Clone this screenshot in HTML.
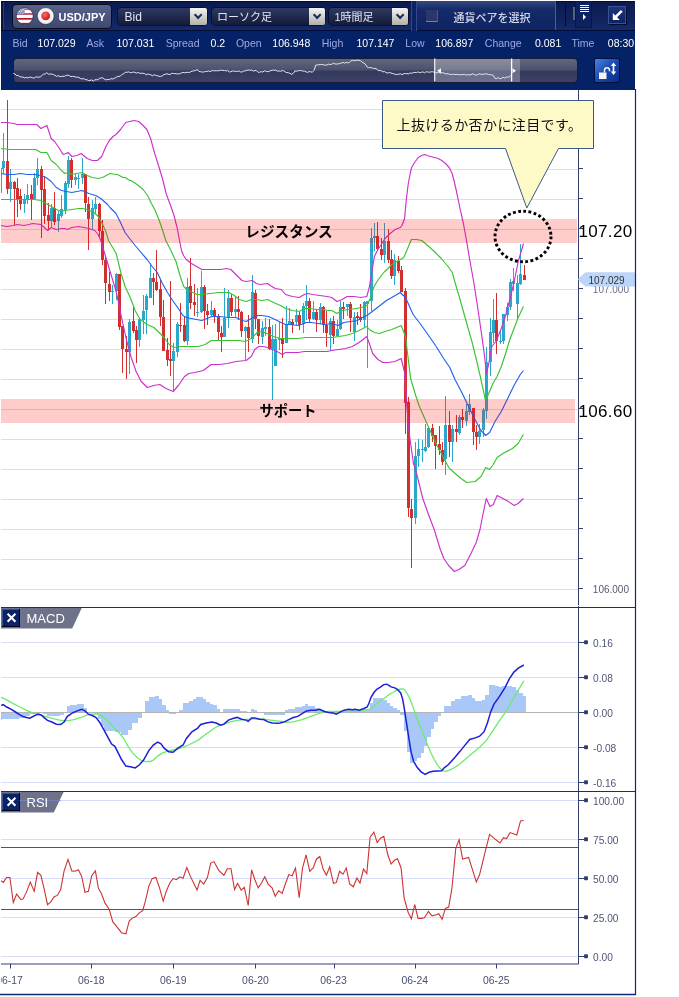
<!DOCTYPE html>
<html><head><meta charset="utf-8">
<style>
*{box-sizing:border-box;margin:0;padding:0}
html,body{width:679px;height:997px;overflow:hidden;background:#fff}
body{position:relative;font-family:"Liberation Sans","Noto Sans CJK JP",sans-serif}
#chart{position:absolute;left:0;top:0;will-change:transform}
#hdr{position:absolute;left:1px;top:1px;width:634px;height:89px;background:#062266;overflow:hidden;will-change:transform}
#tb{position:absolute;left:0;top:0;width:634px;height:30px;background:linear-gradient(#0b1b50,#10245f 70%,#142a6a);border-top:1px solid #020a30;border-bottom:1px solid #030c34}
.abs{position:absolute}
#pair{left:11px;top:1.7px;width:100px;height:25.3px;border-radius:4px;border:1px solid #0b0d1c;background:linear-gradient(#59638a,#3d4870)}
.flag{position:absolute;width:17px;height:17px;border-radius:50%;box-shadow:0 0 0 1px rgba(200,205,220,.55)}
#us{left:15.2px;top:6.8px;background:repeating-linear-gradient(#c8102e 0 2.4px,#fff 2.4px 4.8px);overflow:hidden}
#us i{position:absolute;left:0;top:0;width:8px;height:7px;background:#2a3a7a}
#jp{left:36.2px;top:6.8px;background:radial-gradient(circle at 50% 45%,#f05a5a 0,#dc2a2a 3.2px,#d82828 4.3px,#f2f2f2 4.9px,#fafafa 6px,#c8c8cc 8.5px)}
#pairt{left:57.5px;top:9.5px;font-size:11px;font-weight:bold;color:#fff;letter-spacing:0}
.dd{position:absolute;top:7px;height:17px;border-radius:4px;background:linear-gradient(#2e3a62,#141b3a);box-shadow:0 0 0 1px #0a1030}
.dd span{position:absolute;left:7px;top:1.5px;font-size:12px;color:#e2e6f4;white-space:nowrap}
.dd span.j{font-size:11px;left:5.5px;top:-0.5px}
.dd b{position:absolute;right:0;top:0;width:16.5px;height:17px;border-radius:0 2px 2px 0;background:linear-gradient(#f4f4f2,#b2b2aa)}
.dd b:after{content:"";position:absolute;left:5.3px;top:4.3px;width:4.3px;height:4.3px;border-right:2.2px solid #1a2a5a;border-bottom:2.2px solid #1a2a5a;transform:rotate(45deg)}
#sel{left:416px;top:0;width:138.5px;height:29px;background:linear-gradient(#33487f,#152b69 30%,#0f2563);border-right:1px solid #4a5c98}
#sep1{left:410px;top:0;width:6px;height:30px;background:#0b2266;border-left:1px solid #34488a;border-right:1px solid #34488a}
#chk{left:424.8px;top:8.5px;width:12.5px;height:12.5px;background:#2a3868;border-bottom:1px solid #7080b0;border-right:1px solid #4a5888}
#selt{left:452.5px;top:8px;font-size:11px;font-weight:500;color:#d4d8ea;white-space:nowrap}
#vl{left:563.7px;top:3px;width:1px;height:22px;background:#020a30}
#gr{left:572px;top:6px;width:2px;height:13px;background:#56607e}
#menu{left:574px;top:-0.5px;width:16.5px;height:27px;background:#0e2260;border:1px solid #08164a}
#menu i{position:absolute;left:3.5px;width:9px;height:1px;background:#fff}
#menu em{position:absolute;left:7px;top:12.5px;width:0;height:0;border-left:3.5px solid #fff;border-top:3px solid transparent;border-bottom:3px solid transparent}
#arr{left:606.7px;top:4.5px;width:18px;height:18px;background:linear-gradient(#1a3680,#0c2262);border:1px solid #3a5090;box-shadow:1px 1px 0 #020a30}
#info{position:absolute;left:0;top:30px;width:634px;height:24px;font-size:10.5px;white-space:nowrap}
#info span{position:absolute;top:5.5px}
.l{color:#9da9e2}.v{color:#fff}
#slider{left:11.6px;top:57px;width:565.5px;height:24.5px;border-radius:4px;border:1px solid #181c36;background:linear-gradient(#62677f,#4b506c 48%,#343a5c 52%,#3c4266);overflow:hidden}
#win{left:422px;top:0;width:84px;height:24px;background:rgba(255,255,255,.25)}
#lock{left:592.8px;top:56.5px;width:26px;height:25.5px;border-radius:2px;background:linear-gradient(135deg,#4a84e0,#1a48b0 50%,#0a2a86);border:1px solid #021040}
</style></head><body>
<svg id="chart" width="679" height="997" viewBox="0 0 679 997" font-family="Liberation Sans, Noto Sans CJK JP, sans-serif">
<line x1="1" y1="109.5" x2="578" y2="109.5" stroke="#d6dcfa" stroke-width="1"/>
<line x1="1" y1="139.5" x2="578" y2="139.5" stroke="#d6dcfa" stroke-width="1"/>
<line x1="1" y1="169.5" x2="578" y2="169.5" stroke="#d6dcfa" stroke-width="1"/>
<line x1="1" y1="199.5" x2="578" y2="199.5" stroke="#d6dcfa" stroke-width="1"/>
<line x1="1" y1="229.5" x2="578" y2="229.5" stroke="#d6dcfa" stroke-width="1"/>
<line x1="1" y1="259.5" x2="578" y2="259.5" stroke="#d6dcfa" stroke-width="1"/>
<line x1="1" y1="289.5" x2="578" y2="289.5" stroke="#d6dcfa" stroke-width="1"/>
<line x1="1" y1="319.5" x2="578" y2="319.5" stroke="#d6dcfa" stroke-width="1"/>
<line x1="1" y1="349.5" x2="578" y2="349.5" stroke="#d6dcfa" stroke-width="1"/>
<line x1="1" y1="379.5" x2="578" y2="379.5" stroke="#d6dcfa" stroke-width="1"/>
<line x1="1" y1="409.5" x2="578" y2="409.5" stroke="#d6dcfa" stroke-width="1"/>
<line x1="1" y1="439.5" x2="578" y2="439.5" stroke="#d6dcfa" stroke-width="1"/>
<line x1="1" y1="469.5" x2="578" y2="469.5" stroke="#d6dcfa" stroke-width="1"/>
<line x1="1" y1="499.5" x2="578" y2="499.5" stroke="#d6dcfa" stroke-width="1"/>
<line x1="1" y1="529.5" x2="578" y2="529.5" stroke="#d6dcfa" stroke-width="1"/>
<line x1="1" y1="559.5" x2="578" y2="559.5" stroke="#d6dcfa" stroke-width="1"/>
<line x1="1" y1="589.5" x2="578" y2="589.5" stroke="#d6dcfa" stroke-width="1"/>
<g shape-rendering="crispEdges"><rect x="1" y="168" width="1" height="25" fill="#2ca7cc"/><rect x="1" y="168" width="2" height="1" fill="#2ca7cc"/><rect x="3" y="133" width="1" height="41" fill="#2ca7cc"/><rect x="2" y="161" width="3" height="7" fill="#2ca7cc"/><rect x="7" y="100" width="1" height="94" fill="#d22f2f"/><rect x="6" y="161" width="3" height="28" fill="#d22f2f"/><rect x="10" y="169" width="1" height="33" fill="#2ca7cc"/><rect x="9" y="182" width="3" height="7" fill="#2ca7cc"/><rect x="14" y="181" width="1" height="44" fill="#d22f2f"/><rect x="13" y="182" width="3" height="7" fill="#d22f2f"/><rect x="17" y="178" width="1" height="39" fill="#d22f2f"/><rect x="16" y="188" width="3" height="11" fill="#d22f2f"/><rect x="20" y="189" width="1" height="21" fill="#d22f2f"/><rect x="19" y="196" width="3" height="8" fill="#d22f2f"/><rect x="24" y="194" width="1" height="19" fill="#2ca7cc"/><rect x="23" y="200" width="3" height="4" fill="#2ca7cc"/><rect x="27" y="184" width="1" height="20" fill="#2ca7cc"/><rect x="26" y="195" width="3" height="4" fill="#2ca7cc"/><rect x="31" y="185" width="1" height="35" fill="#d22f2f"/><rect x="30" y="194" width="3" height="5" fill="#d22f2f"/><rect x="34" y="173" width="1" height="26" fill="#2ca7cc"/><rect x="33" y="178" width="3" height="21" fill="#2ca7cc"/><rect x="37" y="158" width="1" height="27" fill="#2ca7cc"/><rect x="36" y="169" width="3" height="9" fill="#2ca7cc"/><rect x="41" y="166" width="1" height="72" fill="#d22f2f"/><rect x="40" y="169" width="3" height="21" fill="#d22f2f"/><rect x="44" y="176" width="1" height="48" fill="#d22f2f"/><rect x="43" y="189" width="3" height="27" fill="#d22f2f"/><rect x="48" y="203" width="1" height="27" fill="#d22f2f"/><rect x="47" y="215" width="3" height="6" fill="#d22f2f"/><rect x="51" y="204" width="1" height="23" fill="#2ca7cc"/><rect x="50" y="208" width="3" height="13" fill="#2ca7cc"/><rect x="54" y="192" width="1" height="33" fill="#d22f2f"/><rect x="53" y="208" width="3" height="14" fill="#d22f2f"/><rect x="58" y="211" width="1" height="21" fill="#2ca7cc"/><rect x="57" y="214" width="3" height="7" fill="#2ca7cc"/><rect x="61" y="195" width="1" height="23" fill="#2ca7cc"/><rect x="60" y="209" width="3" height="7" fill="#2ca7cc"/><rect x="65" y="181" width="1" height="33" fill="#2ca7cc"/><rect x="64" y="183" width="3" height="27" fill="#2ca7cc"/><rect x="68" y="156" width="1" height="32" fill="#2ca7cc"/><rect x="67" y="160" width="3" height="24" fill="#2ca7cc"/><rect x="71" y="158" width="1" height="30" fill="#d22f2f"/><rect x="70" y="160" width="3" height="20" fill="#d22f2f"/><rect x="75" y="173" width="1" height="12" fill="#2ca7cc"/><rect x="74" y="177" width="3" height="3" fill="#2ca7cc"/><rect x="78" y="174" width="1" height="15" fill="#2ca7cc"/><rect x="77" y="178" width="3" height="1" fill="#2ca7cc"/><rect x="82" y="158" width="1" height="26" fill="#2ca7cc"/><rect x="81" y="174" width="3" height="4" fill="#2ca7cc"/><rect x="85" y="174" width="1" height="38" fill="#d22f2f"/><rect x="84" y="174" width="3" height="29" fill="#d22f2f"/><rect x="88" y="197" width="1" height="53" fill="#d22f2f"/><rect x="87" y="204" width="3" height="15" fill="#d22f2f"/><rect x="92" y="200" width="1" height="29" fill="#2ca7cc"/><rect x="91" y="208" width="3" height="11" fill="#2ca7cc"/><rect x="95" y="197" width="1" height="16" fill="#2ca7cc"/><rect x="94" y="204" width="3" height="5" fill="#2ca7cc"/><rect x="99" y="203" width="1" height="34" fill="#d22f2f"/><rect x="98" y="204" width="3" height="27" fill="#d22f2f"/><rect x="102" y="220" width="1" height="45" fill="#d22f2f"/><rect x="101" y="231" width="3" height="29" fill="#d22f2f"/><rect x="105" y="257" width="1" height="47" fill="#d22f2f"/><rect x="104" y="260" width="3" height="23" fill="#d22f2f"/><rect x="109" y="272" width="1" height="29" fill="#d22f2f"/><rect x="108" y="284" width="3" height="8" fill="#d22f2f"/><rect x="112" y="285" width="1" height="19" fill="#2ca7cc"/><rect x="111" y="291" width="3" height="1" fill="#2ca7cc"/><rect x="116" y="273" width="1" height="27" fill="#2ca7cc"/><rect x="115" y="274" width="3" height="17" fill="#2ca7cc"/><rect x="119" y="274" width="1" height="56" fill="#d22f2f"/><rect x="118" y="274" width="3" height="53" fill="#d22f2f"/><rect x="122" y="326" width="1" height="47" fill="#d22f2f"/><rect x="121" y="326" width="3" height="23" fill="#d22f2f"/><rect x="126" y="336" width="1" height="43" fill="#d22f2f"/><rect x="125" y="349" width="3" height="3" fill="#d22f2f"/><rect x="129" y="319" width="1" height="55" fill="#2ca7cc"/><rect x="128" y="322" width="3" height="30" fill="#2ca7cc"/><rect x="133" y="307" width="1" height="26" fill="#d22f2f"/><rect x="132" y="321" width="3" height="10" fill="#d22f2f"/><rect x="136" y="326" width="1" height="37" fill="#d22f2f"/><rect x="135" y="330" width="3" height="10" fill="#d22f2f"/><rect x="139" y="318" width="1" height="29" fill="#2ca7cc"/><rect x="138" y="319" width="3" height="21" fill="#2ca7cc"/><rect x="143" y="295" width="1" height="39" fill="#2ca7cc"/><rect x="142" y="311" width="3" height="9" fill="#2ca7cc"/><rect x="146" y="294" width="1" height="40" fill="#2ca7cc"/><rect x="145" y="296" width="3" height="14" fill="#2ca7cc"/><rect x="150" y="265" width="1" height="33" fill="#2ca7cc"/><rect x="149" y="278" width="3" height="20" fill="#2ca7cc"/><rect x="153" y="273" width="1" height="32" fill="#d22f2f"/><rect x="152" y="278" width="3" height="4" fill="#d22f2f"/><rect x="156" y="250" width="1" height="41" fill="#d22f2f"/><rect x="155" y="282" width="3" height="8" fill="#d22f2f"/><rect x="160" y="280" width="1" height="46" fill="#d22f2f"/><rect x="159" y="289" width="3" height="28" fill="#d22f2f"/><rect x="163" y="300" width="1" height="51" fill="#d22f2f"/><rect x="162" y="317" width="3" height="34" fill="#d22f2f"/><rect x="167" y="338" width="1" height="28" fill="#d22f2f"/><rect x="166" y="350" width="3" height="10" fill="#d22f2f"/><rect x="170" y="281" width="1" height="95" fill="#d22f2f"/><rect x="169" y="359" width="3" height="2" fill="#d22f2f"/><rect x="173" y="343" width="1" height="48" fill="#2ca7cc"/><rect x="172" y="351" width="3" height="10" fill="#2ca7cc"/><rect x="177" y="322" width="1" height="35" fill="#2ca7cc"/><rect x="176" y="324" width="3" height="28" fill="#2ca7cc"/><rect x="180" y="303" width="1" height="29" fill="#d22f2f"/><rect x="179" y="325" width="3" height="1" fill="#d22f2f"/><rect x="184" y="316" width="1" height="26" fill="#d22f2f"/><rect x="183" y="325" width="3" height="16" fill="#d22f2f"/><rect x="187" y="278" width="1" height="67" fill="#2ca7cc"/><rect x="186" y="287" width="3" height="54" fill="#2ca7cc"/><rect x="190" y="258" width="1" height="51" fill="#d22f2f"/><rect x="189" y="286" width="3" height="17" fill="#d22f2f"/><rect x="194" y="284" width="1" height="32" fill="#d22f2f"/><rect x="193" y="302" width="3" height="3" fill="#d22f2f"/><rect x="197" y="288" width="1" height="29" fill="#2ca7cc"/><rect x="196" y="312" width="3" height="1" fill="#2ca7cc"/><rect x="201" y="271" width="1" height="42" fill="#2ca7cc"/><rect x="200" y="287" width="3" height="25" fill="#2ca7cc"/><rect x="204" y="285" width="1" height="44" fill="#d22f2f"/><rect x="203" y="287" width="3" height="24" fill="#d22f2f"/><rect x="207" y="304" width="1" height="21" fill="#d22f2f"/><rect x="206" y="311" width="3" height="4" fill="#d22f2f"/><rect x="211" y="301" width="1" height="16" fill="#2ca7cc"/><rect x="210" y="310" width="3" height="5" fill="#2ca7cc"/><rect x="214" y="308" width="1" height="15" fill="#d22f2f"/><rect x="213" y="310" width="3" height="6" fill="#d22f2f"/><rect x="218" y="314" width="1" height="26" fill="#d22f2f"/><rect x="217" y="316" width="3" height="16" fill="#d22f2f"/><rect x="221" y="326" width="1" height="26" fill="#d22f2f"/><rect x="220" y="333" width="3" height="4" fill="#d22f2f"/><rect x="224" y="288" width="1" height="49" fill="#2ca7cc"/><rect x="223" y="318" width="3" height="19" fill="#2ca7cc"/><rect x="228" y="290" width="1" height="38" fill="#2ca7cc"/><rect x="227" y="298" width="3" height="19" fill="#2ca7cc"/><rect x="231" y="294" width="1" height="22" fill="#d22f2f"/><rect x="230" y="298" width="3" height="14" fill="#d22f2f"/><rect x="235" y="297" width="1" height="20" fill="#2ca7cc"/><rect x="234" y="309" width="3" height="3" fill="#2ca7cc"/><rect x="238" y="296" width="1" height="24" fill="#d22f2f"/><rect x="237" y="309" width="3" height="3" fill="#d22f2f"/><rect x="241" y="311" width="1" height="26" fill="#d22f2f"/><rect x="240" y="312" width="3" height="19" fill="#d22f2f"/><rect x="245" y="326" width="1" height="34" fill="#2ca7cc"/><rect x="244" y="327" width="3" height="4" fill="#2ca7cc"/><rect x="248" y="315" width="1" height="37" fill="#d22f2f"/><rect x="247" y="327" width="3" height="11" fill="#d22f2f"/><rect x="252" y="275" width="1" height="68" fill="#2ca7cc"/><rect x="251" y="292" width="3" height="47" fill="#2ca7cc"/><rect x="255" y="290" width="1" height="39" fill="#d22f2f"/><rect x="254" y="293" width="3" height="26" fill="#d22f2f"/><rect x="258" y="319" width="1" height="25" fill="#d22f2f"/><rect x="257" y="319" width="3" height="17" fill="#d22f2f"/><rect x="262" y="321" width="1" height="23" fill="#2ca7cc"/><rect x="261" y="328" width="3" height="9" fill="#2ca7cc"/><rect x="265" y="318" width="1" height="18" fill="#2ca7cc"/><rect x="264" y="327" width="3" height="2" fill="#2ca7cc"/><rect x="269" y="319" width="1" height="31" fill="#d22f2f"/><rect x="268" y="327" width="3" height="22" fill="#d22f2f"/><rect x="272" y="325" width="1" height="75" fill="#2ca7cc"/><rect x="271" y="339" width="3" height="10" fill="#2ca7cc"/><rect x="275" y="324" width="1" height="42" fill="#2ca7cc"/><rect x="274" y="339" width="3" height="27" fill="#2ca7cc"/><rect x="279" y="322" width="1" height="28" fill="#2ca7cc"/><rect x="278" y="338" width="3" height="2" fill="#2ca7cc"/><rect x="282" y="318" width="1" height="40" fill="#d22f2f"/><rect x="281" y="338" width="3" height="6" fill="#d22f2f"/><rect x="286" y="306" width="1" height="37" fill="#2ca7cc"/><rect x="285" y="324" width="3" height="19" fill="#2ca7cc"/><rect x="289" y="308" width="1" height="17" fill="#2ca7cc"/><rect x="288" y="321" width="3" height="4" fill="#2ca7cc"/><rect x="292" y="319" width="1" height="14" fill="#d22f2f"/><rect x="291" y="322" width="3" height="3" fill="#d22f2f"/><rect x="296" y="309" width="1" height="16" fill="#2ca7cc"/><rect x="295" y="315" width="3" height="7" fill="#2ca7cc"/><rect x="299" y="312" width="1" height="18" fill="#d22f2f"/><rect x="298" y="315" width="3" height="10" fill="#d22f2f"/><rect x="303" y="303" width="1" height="30" fill="#2ca7cc"/><rect x="302" y="306" width="3" height="18" fill="#2ca7cc"/><rect x="306" y="285" width="1" height="35" fill="#2ca7cc"/><rect x="305" y="301" width="3" height="5" fill="#2ca7cc"/><rect x="309" y="298" width="1" height="24" fill="#d22f2f"/><rect x="308" y="301" width="3" height="18" fill="#d22f2f"/><rect x="313" y="301" width="1" height="19" fill="#2ca7cc"/><rect x="312" y="312" width="3" height="7" fill="#2ca7cc"/><rect x="316" y="310" width="1" height="22" fill="#d22f2f"/><rect x="315" y="312" width="3" height="8" fill="#d22f2f"/><rect x="320" y="303" width="1" height="21" fill="#2ca7cc"/><rect x="319" y="307" width="3" height="13" fill="#2ca7cc"/><rect x="323" y="306" width="1" height="27" fill="#d22f2f"/><rect x="322" y="307" width="3" height="18" fill="#d22f2f"/><rect x="326" y="311" width="1" height="36" fill="#d22f2f"/><rect x="325" y="325" width="3" height="8" fill="#d22f2f"/><rect x="330" y="318" width="1" height="33" fill="#2ca7cc"/><rect x="329" y="321" width="3" height="14" fill="#2ca7cc"/><rect x="333" y="316" width="1" height="28" fill="#d22f2f"/><rect x="332" y="321" width="3" height="15" fill="#d22f2f"/><rect x="337" y="320" width="1" height="16" fill="#2ca7cc"/><rect x="336" y="329" width="3" height="7" fill="#2ca7cc"/><rect x="340" y="301" width="1" height="29" fill="#2ca7cc"/><rect x="339" y="307" width="3" height="22" fill="#2ca7cc"/><rect x="343" y="302" width="1" height="17" fill="#d22f2f"/><rect x="342" y="307" width="3" height="2" fill="#d22f2f"/><rect x="347" y="304" width="1" height="12" fill="#2ca7cc"/><rect x="346" y="304" width="3" height="3" fill="#2ca7cc"/><rect x="350" y="302" width="1" height="30" fill="#d22f2f"/><rect x="349" y="304" width="3" height="14" fill="#d22f2f"/><rect x="354" y="312" width="1" height="29" fill="#2ca7cc"/><rect x="353" y="317" width="3" height="15" fill="#2ca7cc"/><rect x="357" y="312" width="1" height="13" fill="#d22f2f"/><rect x="356" y="316" width="3" height="2" fill="#d22f2f"/><rect x="360" y="304" width="1" height="18" fill="#d22f2f"/><rect x="359" y="317" width="3" height="3" fill="#d22f2f"/><rect x="364" y="301" width="1" height="26" fill="#2ca7cc"/><rect x="363" y="302" width="3" height="18" fill="#2ca7cc"/><rect x="367" y="301" width="1" height="67" fill="#2ca7cc"/><rect x="366" y="301" width="3" height="3" fill="#2ca7cc"/><rect x="371" y="228" width="1" height="83" fill="#2ca7cc"/><rect x="370" y="238" width="3" height="63" fill="#2ca7cc"/><rect x="374" y="223" width="1" height="28" fill="#2ca7cc"/><rect x="373" y="236" width="3" height="2" fill="#2ca7cc"/><rect x="377" y="222" width="1" height="29" fill="#d22f2f"/><rect x="376" y="236" width="3" height="13" fill="#d22f2f"/><rect x="381" y="238" width="1" height="22" fill="#d22f2f"/><rect x="380" y="249" width="3" height="6" fill="#d22f2f"/><rect x="384" y="223" width="1" height="40" fill="#2ca7cc"/><rect x="383" y="241" width="3" height="14" fill="#2ca7cc"/><rect x="388" y="229" width="1" height="34" fill="#d22f2f"/><rect x="387" y="241" width="3" height="19" fill="#d22f2f"/><rect x="391" y="250" width="1" height="29" fill="#d22f2f"/><rect x="390" y="259" width="3" height="17" fill="#d22f2f"/><rect x="394" y="254" width="1" height="31" fill="#2ca7cc"/><rect x="393" y="260" width="3" height="16" fill="#2ca7cc"/><rect x="398" y="256" width="1" height="17" fill="#d22f2f"/><rect x="397" y="261" width="3" height="10" fill="#d22f2f"/><rect x="401" y="266" width="1" height="26" fill="#d22f2f"/><rect x="400" y="270" width="3" height="22" fill="#d22f2f"/><rect x="405" y="288" width="1" height="146" fill="#d22f2f"/><rect x="404" y="291" width="3" height="112" fill="#d22f2f"/><rect x="408" y="397" width="1" height="120" fill="#d22f2f"/><rect x="407" y="402" width="3" height="106" fill="#d22f2f"/><rect x="411" y="499" width="1" height="69" fill="#d22f2f"/><rect x="410" y="509" width="3" height="9" fill="#d22f2f"/><rect x="415" y="442" width="1" height="82" fill="#2ca7cc"/><rect x="414" y="456" width="3" height="62" fill="#2ca7cc"/><rect x="418" y="439" width="1" height="28" fill="#2ca7cc"/><rect x="417" y="449" width="3" height="7" fill="#2ca7cc"/><rect x="422" y="440" width="1" height="22" fill="#2ca7cc"/><rect x="421" y="449" width="3" height="1" fill="#2ca7cc"/><rect x="425" y="424" width="1" height="28" fill="#2ca7cc"/><rect x="424" y="447" width="3" height="4" fill="#2ca7cc"/><rect x="428" y="427" width="1" height="21" fill="#2ca7cc"/><rect x="427" y="428" width="3" height="19" fill="#2ca7cc"/><rect x="432" y="424" width="1" height="18" fill="#d22f2f"/><rect x="431" y="428" width="3" height="8" fill="#d22f2f"/><rect x="435" y="435" width="1" height="34" fill="#d22f2f"/><rect x="434" y="435" width="3" height="11" fill="#d22f2f"/><rect x="439" y="426" width="1" height="29" fill="#d22f2f"/><rect x="438" y="444" width="3" height="6" fill="#d22f2f"/><rect x="442" y="442" width="1" height="23" fill="#d22f2f"/><rect x="441" y="450" width="3" height="12" fill="#d22f2f"/><rect x="445" y="396" width="1" height="79" fill="#2ca7cc"/><rect x="444" y="425" width="3" height="34" fill="#2ca7cc"/><rect x="449" y="411" width="1" height="46" fill="#d22f2f"/><rect x="448" y="425" width="3" height="17" fill="#d22f2f"/><rect x="452" y="425" width="1" height="37" fill="#2ca7cc"/><rect x="451" y="429" width="3" height="13" fill="#2ca7cc"/><rect x="456" y="415" width="1" height="27" fill="#d22f2f"/><rect x="455" y="429" width="3" height="3" fill="#d22f2f"/><rect x="459" y="415" width="1" height="20" fill="#2ca7cc"/><rect x="458" y="417" width="3" height="16" fill="#2ca7cc"/><rect x="462" y="409" width="1" height="19" fill="#d22f2f"/><rect x="461" y="417" width="3" height="3" fill="#d22f2f"/><rect x="466" y="404" width="1" height="22" fill="#2ca7cc"/><rect x="465" y="411" width="3" height="10" fill="#2ca7cc"/><rect x="469" y="394" width="1" height="21" fill="#2ca7cc"/><rect x="468" y="404" width="3" height="8" fill="#2ca7cc"/><rect x="473" y="408" width="1" height="37" fill="#d22f2f"/><rect x="472" y="408" width="3" height="24" fill="#d22f2f"/><rect x="476" y="425" width="1" height="25" fill="#d22f2f"/><rect x="475" y="432" width="3" height="5" fill="#d22f2f"/><rect x="479" y="424" width="1" height="20" fill="#2ca7cc"/><rect x="478" y="431" width="3" height="6" fill="#2ca7cc"/><rect x="483" y="408" width="1" height="29" fill="#2ca7cc"/><rect x="482" y="410" width="3" height="20" fill="#2ca7cc"/><rect x="486" y="347" width="1" height="72" fill="#2ca7cc"/><rect x="485" y="362" width="3" height="49" fill="#2ca7cc"/><rect x="490" y="318" width="1" height="58" fill="#2ca7cc"/><rect x="489" y="332" width="3" height="30" fill="#2ca7cc"/><rect x="493" y="299" width="1" height="44" fill="#2ca7cc"/><rect x="492" y="320" width="3" height="13" fill="#2ca7cc"/><rect x="496" y="293" width="1" height="61" fill="#d22f2f"/><rect x="495" y="320" width="3" height="21" fill="#d22f2f"/><rect x="500" y="331" width="1" height="13" fill="#2ca7cc"/><rect x="499" y="341" width="3" height="1" fill="#2ca7cc"/><rect x="503" y="314" width="1" height="30" fill="#2ca7cc"/><rect x="502" y="314" width="3" height="27" fill="#2ca7cc"/><rect x="507" y="303" width="1" height="18" fill="#2ca7cc"/><rect x="506" y="307" width="3" height="8" fill="#2ca7cc"/><rect x="510" y="279" width="1" height="31" fill="#2ca7cc"/><rect x="509" y="282" width="3" height="25" fill="#2ca7cc"/><rect x="513" y="268" width="1" height="23" fill="#2ca7cc"/><rect x="512" y="281" width="3" height="3" fill="#2ca7cc"/><rect x="517" y="275" width="1" height="44" fill="#2ca7cc"/><rect x="516" y="283" width="3" height="21" fill="#2ca7cc"/><rect x="520" y="244" width="1" height="41" fill="#2ca7cc"/><rect x="519" y="274" width="3" height="10" fill="#2ca7cc"/><rect x="524" y="265" width="1" height="15" fill="#d22f2f"/><rect x="523" y="275" width="3" height="5" fill="#d22f2f"/></g>
<g fill="none" stroke-width="1.15" stroke-linejoin="round">
<path d="M0.9 122.5 L6.8 122.5 L13.6 123.5 L17.1 124.5 L23.9 124.5 L30.7 124.5 L36.7 124.5 L40.9 128.5 L46.9 125.5 L51.2 138.5 L54.6 141.5 L58.8 147.5 L63.1 154.5 L66.5 153.5 L68.1 152.5 L71.8 156.5 L76.9 155.5 L81.2 153.5 L87.2 158.5 L92.3 160.5 L97.4 160.5 L101.7 156.5 L105.9 146.5 L109.3 140.5 L113 136.5 L114.4 135.5 L116 134.5 L120.5 129.5 L125.8 122.5 L129.6 121.5 L134.1 120.5 L138.6 121.5 L143.1 125.5 L146.9 129.5 L150.6 138.5 L154.4 152.5 L158.2 164.5 L162.7 179.5 L166.4 194.5 L170.2 204.5 L174 215.5 L177.3 228.5 L179.5 240.5 L181.5 250.5 L183.5 255.5 L186.3 259.5 L191.4 263.5 L196.5 266.5 L201.8 269.5 L212 269.5 L220.6 269.5 L226.5 268.5 L230.8 269.5 L235.9 274.5 L241.9 280.5 L246.2 281.5 L252.1 280.5 L256.4 283.5 L260 284.5 L267.7 283.5 L270.2 285.5 L275.3 288.5 L281.3 289.5 L285.6 294.5 L292.4 296.5 L299.2 297.5 L304.3 294.5 L307.7 293.5 L312.9 294.5 L319.7 295.5 L327 296.5 L331.8 297.5 L336.9 301.5 L342.1 299.5 L347.2 296.5 L354 296.5 L360.8 297.5 L366.8 296.5 L369.3 287.5 L371.9 271.5 L374.4 256.5 L377.9 249.5 L381.3 244.5 L385 238.5 L390.1 233.5 L395.2 229.5 L400.3 227.5 L402 225.5 L404.6 218.5 L406.3 199.5 L408.3 183.5 L410.2 173.5 L411.6 167.5 L414.6 162.5 L418.3 157.5 L421.6 155.5 L424.9 154.5 L427.1 155.5 L430.8 156.5 L434.5 157.5 L438.1 158.5 L441.8 160.5 L445.5 163.5 L449.2 167.5 L452.1 173.5 L454 180.5 L456.5 191.5 L459.8 207.5 L463.2 222.5 L466.5 240.5 L469.5 258.5 L474 283.5 L478 309.5 L481.6 334.5 L484.6 356.5 L486.4 373.5 L488.8 363.5 L491.8 346.5 L496 341.5 L501.3 328.5 L505.6 315.5 L509.8 299.5 L514 282.5 L518.2 261.5 L523.5 243.5" stroke="#cc30cc"/>
<path d="M0.9 225.5 L6.8 226.5 L13.6 225.5 L17.1 224.5 L23.9 225.5 L29 224.5 L32.4 223.5 L40.9 224.5 L47.7 230.5 L51.2 227.5 L56.3 229.5 L61.4 228.5 L65 228.5 L67.6 229.5 L71.8 227.5 L78.6 226.5 L83.8 227.5 L88.9 228.5 L94.8 230.5 L98.2 234.5 L100.8 240.5 L105.9 257.5 L111 274.5 L116.2 291.5 L121.3 316.5 L126.6 340.5 L130.9 356.5 L136.1 371.5 L141.2 381.5 L147.4 387.5 L153.6 385.5 L159.8 384.5 L166 388.5 L173.2 391.5 L178.4 385.5 L184.5 376.5 L188.7 373.5 L194.8 372.5 L203.3 370.5 L211.2 364.5 L218.9 364.5 L227.4 363.5 L235.9 361.5 L246.2 360.5 L251.3 356.5 L254.7 349.5 L258.9 346.5 L262.8 346.5 L267.5 347.5 L272.3 349.5 L277 351.5 L282.3 354.5 L285.6 352.5 L291.3 352.5 L298 352.5 L304.3 351.5 L311.2 351.5 L319.7 351.5 L327 351.5 L331.8 350.5 L338.6 349.5 L345.5 348.5 L352.3 346.5 L359.1 342.5 L366.8 336.5 L369.3 343.5 L372.7 353.5 L377.9 359.5 L383 362.5 L388.1 362.5 L395 361.5 L401.2 358.5 L404.6 372.5 L407 408.5 L409.5 435.5 L413.3 462.5 L417.1 475.5 L422.8 498.5 L428.5 514.5 L434.2 529.5 L440 548.5 L443.8 558.5 L448.6 565.5 L454.3 571.5 L459 569.5 L464.8 565.5 L470.5 554.5 L476.2 542.5 L480 529.5 L482.9 514.5 L486.3 498.5 L489.9 506.5 L493.3 504.5 L497.1 495.5 L501 497.5 L506.7 500.5 L514.3 505.5 L518.1 503.5 L523.4 498.5" stroke="#cc30cc"/>
<path d="M0.9 148.5 L10.2 149.5 L17.1 149.5 L25.6 149.5 L35.8 149.5 L40.9 152.5 L46.9 152.5 L51.2 160.5 L56.3 164.5 L61.4 170.5 L64.8 173.5 L68.4 172.5 L71.8 174.5 L76.9 173.5 L82.1 172.5 L87.2 175.5 L92.3 177.5 L98.2 178.5 L102.5 177.5 L110 173.5 L110.2 173.5 L116.2 174.5 L117.5 174.5 L123 177.5 L125.1 177.5 L129.8 180.5 L131.1 180.5 L137.1 184.5 L143.1 189.5 L147.6 195.5 L151.4 203.5 L155.2 210.5 L158.9 219.5 L162.7 230.5 L165.8 240.5 L170.9 250.5 L176 261.5 L180.3 276.5 L183.7 286.5 L188 290.5 L193.1 292.5 L197 294.5 L201.8 294.5 L210.3 293.5 L218.9 292.5 L229.1 292.5 L234.2 295.5 L239.3 299.5 L246.2 301.5 L251.3 299.5 L256.4 299.5 L262 300.5 L267.7 299.5 L273.6 302.5 L280.5 305.5 L285.6 308.5 L292.4 310.5 L299.2 311.5 L304.3 308.5 L309.4 308.5 L316.3 309.5 L323.1 309.5 L328 310.5 L331.8 310.5 L336.9 313.5 L342.1 310.5 L348.9 309.5 L355.7 308.5 L361.7 307.5 L366.8 305.5 L370.2 298.5 L373.6 287.5 L377 281.5 L381.3 275.5 L384.7 271.5 L388.1 268.5 L391.8 264.5 L398.6 260.5 L403.8 257.5 L407.2 249.5 L411.4 239.5 L416.5 239.5 L421.7 240.5 L427.6 245.5 L434.4 251.5 L441.3 258.5 L448.1 266.5 L452.3 272.5 L455 282.5 L459.2 296.5 L463.4 311.5 L467.6 326.5 L471.9 341.5 L476.1 358.5 L480.3 376.5 L485.5 400.5 L488.7 393.5 L492.9 383.5 L497.1 376.5 L501.3 366.5 L505.6 353.5 L509.8 339.5 L514 328.5 L518.2 317.5 L523.5 306.5" stroke="#38c430"/>
<path d="M0.9 199.5 L8.5 199.5 L13.6 199.5 L17.1 199.5 L23.9 199.5 L34.1 199.5 L40.9 200.5 L46 203.5 L51.2 206.5 L56.3 209.5 L61.4 211.5 L65 210.5 L71.8 209.5 L78.6 208.5 L82.1 208.5 L87.2 209.5 L94 212.5 L98.2 216.5 L101.7 222.5 L105.9 231.5 L108.5 240.5 L116.2 253.5 L121.3 274.5 L125.5 287.5 L130.3 297.5 L135.1 310.5 L140.2 319.5 L147.1 324.5 L153.9 327.5 L159 332.5 L164.1 337.5 L169.2 344.5 L174.3 347.5 L179.4 346.5 L186.3 346.5 L193.1 346.5 L198 346.5 L205.2 344.5 L211.3 340.5 L218.9 340.5 L229.1 340.5 L239.3 340.5 L245.3 341.5 L251.3 338.5 L257.2 332.5 L262 331.5 L266.8 333.5 L273.6 336.5 L280.5 338.5 L289 338.5 L297.5 338.5 L306 337.5 L314.6 337.5 L323.1 337.5 L328 337.5 L331.8 337.5 L338.6 336.5 L345.5 335.5 L352.3 333.5 L359.1 330.5 L366.8 326.5 L369.3 329.5 L374.4 332.5 L379.6 333.5 L384.7 331.5 L391.8 329.5 L401.2 325.5 L405.5 336.5 L410.6 378.5 L415.7 395.5 L419 405.5 L424.7 418.5 L431.4 433.5 L438.1 447.5 L443.8 458.5 L449.5 468.5 L455.2 473.5 L460.9 478.5 L466.7 482.5 L475.2 481.5 L481 476.5 L485.7 467.5 L489.5 469.5 L493.3 464.5 L497.1 457.5 L502.9 453.5 L512.4 448.5 L518.1 443.5 L523.4 434.5" stroke="#38c430"/>
<path d="M0.9 173.5 L6.8 174.5 L13.6 174.5 L20.5 173.5 L27.3 174.5 L34.1 174.5 L40.9 175.5 L46 177.5 L51.2 181.5 L56.3 187.5 L61.4 190.5 L66.5 191.5 L71.8 192.5 L76.9 191.5 L82.1 190.5 L88.9 193.5 L95.7 195.5 L100.8 198.5 L107.6 204.5 L110 207.5 L116 213.5 L120.5 222.5 L125.1 232.5 L129.6 238.5 L135.1 245.5 L140.2 251.5 L147.1 259.5 L152.2 266.5 L157.3 272.5 L162.4 283.5 L167.5 292.5 L172.6 300.5 L177.7 307.5 L182.9 315.5 L186.3 317.5 L191.4 318.5 L196.5 319.5 L201.8 320.5 L206.9 318.5 L212 316.5 L218.9 316.5 L229.1 317.5 L235.9 317.5 L242.7 320.5 L246.2 321.5 L253 317.5 L258 315.5 L261.8 315.5 L268.5 316.5 L275.1 319.5 L280.9 322.5 L285.6 324.5 L290.4 324.5 L298 325.5 L301.5 324.5 L306 322.5 L311.2 322.5 L318 323.5 L324.8 324.5 L331.8 323.5 L337.8 325.5 L343.8 322.5 L350.6 321.5 L357.4 320.5 L362.5 317.5 L366.8 315.5 L371 312.5 L376.2 308.5 L381.3 304.5 L386.4 300.5 L391.8 297.5 L400.3 292.5 L405.5 297.5 L413.1 314.5 L420.8 324.5 L429.3 336.5 L436.2 346.5 L443 357.5 L449.8 367.5 L455 379.5 L461.3 391.5 L467.6 404.5 L474 417.5 L480.3 429.5 L485.6 435.5 L489.6 432.5 L495 421.5 L501.3 411.5 L507.7 398.5 L514 385.5 L520.3 374.5 L523.5 370.5" stroke="#1f62f0"/>
</g>
<rect x="1" y="219" width="576" height="24" fill="rgb(255,0,0)" fill-opacity="0.2"/>
<rect x="1" y="399" width="574" height="24" fill="rgb(255,0,0)" fill-opacity="0.2"/>
<text x="289" y="236.6" text-anchor="middle" font-size="14.6" font-weight="bold" fill="#000" font-family="Liberation Sans, Noto Sans CJK JP, sans-serif">レジスタンス</text>
<text x="288" y="416" text-anchor="middle" font-size="14.3" font-weight="bold" fill="#000" font-family="Liberation Sans, Noto Sans CJK JP, sans-serif">サポート</text>
<line x1="578.5" y1="90" x2="578.5" y2="964" stroke="#34406c" stroke-width="1"/>
<line x1="578" y1="108.5" x2="583" y2="108.5" stroke="#34406c"/>
<line x1="578" y1="138.5" x2="583" y2="138.5" stroke="#34406c"/>
<line x1="578" y1="168.5" x2="583" y2="168.5" stroke="#34406c"/>
<line x1="578" y1="198.5" x2="583" y2="198.5" stroke="#34406c"/>
<line x1="578" y1="228.5" x2="583" y2="228.5" stroke="#34406c"/>
<line x1="578" y1="258.5" x2="583" y2="258.5" stroke="#34406c"/>
<line x1="578" y1="288.5" x2="583" y2="288.5" stroke="#34406c"/>
<line x1="578" y1="318.5" x2="583" y2="318.5" stroke="#34406c"/>
<line x1="578" y1="348.5" x2="583" y2="348.5" stroke="#34406c"/>
<line x1="578" y1="378.5" x2="583" y2="378.5" stroke="#34406c"/>
<line x1="578" y1="408.5" x2="583" y2="408.5" stroke="#34406c"/>
<line x1="578" y1="438.5" x2="583" y2="438.5" stroke="#34406c"/>
<line x1="578" y1="468.5" x2="583" y2="468.5" stroke="#34406c"/>
<line x1="578" y1="498.5" x2="583" y2="498.5" stroke="#34406c"/>
<line x1="578" y1="528.5" x2="583" y2="528.5" stroke="#34406c"/>
<line x1="578" y1="558.5" x2="583" y2="558.5" stroke="#34406c"/>
<line x1="578" y1="588.5" x2="583" y2="588.5" stroke="#34406c"/>
<text x="578.4" y="236.8" font-size="17" letter-spacing="0.35" fill="#000" font-family="Liberation Sans, sans-serif">107.20</text>
<text x="578.4" y="417" font-size="17" letter-spacing="0.35" fill="#000" font-family="Liberation Sans, sans-serif">106.60</text>
<text x="629" y="293" text-anchor="end" font-size="10" fill="#6a6e84" font-family="Liberation Sans, sans-serif">107.000</text>
<text x="629" y="592.5" text-anchor="end" font-size="10" fill="#555a70" font-family="Liberation Sans, sans-serif">106.000</text>
<path d="M578 279.4 Q580 276.5 585.5 272.3 H635 V286.5 H585.5 Q580 282.3 578 279.4 Z" fill="#bcd6fa"/>
<text x="588.5" y="283.5" font-size="10" fill="#333" font-family="Liberation Sans, sans-serif">107.029</text>
<path d="M382.5 100.5 H593.5 V148.5 H558.5 L526.8 208 L505.5 148.5 H382.5 Z" fill="#fefac8" stroke="#3c5888" stroke-width="1"/>
<text x="396.6" y="129.6" font-size="14" letter-spacing="0.4" fill="#111" font-family="Liberation Sans, Noto Sans CJK JP, sans-serif">上抜けるか否かに注目です。</text>
<ellipse cx="523" cy="236.5" rx="28" ry="25.3" fill="none" stroke="#000" stroke-width="2.9" stroke-dasharray="2.8 2.43"/>
<line x1="0" y1="605.5" x2="635" y2="605.5" stroke="#f6f6fa" stroke-width="1"/>
<line x1="0" y1="607.5" x2="635" y2="607.5" stroke="#1e2d60" stroke-width="1"/>
<line x1="0" y1="791.5" x2="635" y2="791.5" stroke="#1e2d60" stroke-width="1"/>
<line x1="1" y1="642.5" x2="578" y2="642.5" stroke="#d6dcfa"/>
<line x1="1" y1="677.5" x2="578" y2="677.5" stroke="#d6dcfa"/>
<line x1="1" y1="712.5" x2="578" y2="712.5" stroke="#b4b4b4"/>
<line x1="1" y1="747.5" x2="578" y2="747.5" stroke="#d6dcfa"/>
<line x1="1" y1="782.5" x2="578" y2="782.5" stroke="#d6dcfa"/>
<g fill="#a9c8f8" shape-rendering="crispEdges"><rect x="-1" y="712" width="3" height="8"/><rect x="2" y="712" width="4" height="7"/><rect x="6" y="712" width="3" height="7"/><rect x="9" y="712" width="4" height="7"/><rect x="13" y="712" width="3" height="7"/><rect x="16" y="712" width="3" height="7"/><rect x="19" y="712" width="4" height="6"/><rect x="23" y="712" width="3" height="6"/><rect x="26" y="712" width="4" height="4"/><rect x="30" y="712" width="3" height="2"/><rect x="33" y="712" width="3" height="2"/><rect x="36" y="712" width="4" height="2"/><rect x="43" y="712" width="4" height="2"/><rect x="47" y="712" width="3" height="4"/><rect x="50" y="712" width="3" height="4"/><rect x="53" y="712" width="4" height="4"/><rect x="57" y="712" width="3" height="4"/><rect x="60" y="712" width="4" height="3"/><rect x="67" y="706" width="3" height="6"/><rect x="70" y="705" width="4" height="7"/><rect x="74" y="705" width="3" height="7"/><rect x="77" y="704" width="4" height="8"/><rect x="81" y="704" width="3" height="8"/><rect x="84" y="708" width="3" height="4"/><rect x="94" y="712" width="4" height="2"/><rect x="98" y="712" width="3" height="7"/><rect x="101" y="712" width="3" height="14"/><rect x="104" y="712" width="4" height="19"/><rect x="108" y="712" width="3" height="19"/><rect x="111" y="712" width="4" height="19"/><rect x="115" y="712" width="3" height="20"/><rect x="118" y="712" width="3" height="20"/><rect x="121" y="712" width="4" height="23"/><rect x="125" y="712" width="3" height="23"/><rect x="128" y="712" width="4" height="18"/><rect x="132" y="712" width="3" height="11"/><rect x="135" y="712" width="3" height="11"/><rect x="138" y="712" width="4" height="6"/><rect x="145" y="701" width="4" height="11"/><rect x="149" y="697" width="3" height="15"/><rect x="152" y="697" width="3" height="15"/><rect x="155" y="696" width="4" height="16"/><rect x="159" y="699" width="3" height="13"/><rect x="162" y="705" width="4" height="7"/><rect x="166" y="710" width="3" height="2"/><rect x="169" y="712" width="3" height="2"/><rect x="172" y="712" width="4" height="2"/><rect x="179" y="710" width="4" height="2"/><rect x="183" y="703" width="3" height="9"/><rect x="186" y="703" width="3" height="9"/><rect x="189" y="701" width="4" height="11"/><rect x="193" y="699" width="3" height="13"/><rect x="196" y="697" width="4" height="15"/><rect x="200" y="697" width="3" height="15"/><rect x="203" y="699" width="3" height="13"/><rect x="206" y="702" width="4" height="10"/><rect x="210" y="704" width="3" height="8"/><rect x="213" y="705" width="4" height="7"/><rect x="217" y="709" width="3" height="3"/><rect x="223" y="709" width="4" height="3"/><rect x="227" y="709" width="3" height="3"/><rect x="230" y="709" width="4" height="3"/><rect x="234" y="709" width="3" height="3"/><rect x="237" y="709" width="3" height="3"/><rect x="240" y="711" width="4" height="1"/><rect x="244" y="711" width="3" height="1"/><rect x="251" y="709" width="3" height="3"/><rect x="254" y="710" width="3" height="2"/><rect x="264" y="712" width="4" height="3"/><rect x="268" y="712" width="3" height="3"/><rect x="271" y="712" width="3" height="3"/><rect x="274" y="712" width="4" height="3"/><rect x="278" y="712" width="3" height="3"/><rect x="281" y="712" width="4" height="3"/><rect x="285" y="710" width="3" height="2"/><rect x="288" y="709" width="3" height="3"/><rect x="291" y="709" width="4" height="3"/><rect x="295" y="707" width="3" height="5"/><rect x="298" y="707" width="4" height="5"/><rect x="302" y="706" width="3" height="6"/><rect x="305" y="704" width="3" height="8"/><rect x="308" y="706" width="4" height="6"/><rect x="312" y="706" width="3" height="6"/><rect x="315" y="708" width="4" height="4"/><rect x="319" y="710" width="3" height="2"/><rect x="322" y="710" width="3" height="2"/><rect x="325" y="711" width="4" height="1"/><rect x="329" y="711" width="3" height="1"/><rect x="332" y="711" width="4" height="1"/><rect x="336" y="711" width="3" height="1"/><rect x="339" y="711" width="3" height="1"/><rect x="342" y="711" width="4" height="1"/><rect x="346" y="710" width="3" height="2"/><rect x="349" y="710" width="4" height="2"/><rect x="353" y="710" width="3" height="2"/><rect x="356" y="710" width="3" height="2"/><rect x="359" y="711" width="4" height="1"/><rect x="363" y="709" width="3" height="3"/><rect x="366" y="709" width="4" height="3"/><rect x="370" y="703" width="3" height="9"/><rect x="373" y="698" width="3" height="14"/><rect x="376" y="698" width="4" height="14"/><rect x="380" y="698" width="3" height="14"/><rect x="383" y="700" width="4" height="12"/><rect x="387" y="703" width="3" height="9"/><rect x="390" y="706" width="3" height="6"/><rect x="393" y="708" width="4" height="4"/><rect x="397" y="710" width="3" height="2"/><rect x="400" y="712" width="4" height="3"/><rect x="404" y="712" width="3" height="19"/><rect x="407" y="712" width="3" height="40"/><rect x="410" y="712" width="4" height="51"/><rect x="414" y="712" width="3" height="49"/><rect x="417" y="712" width="4" height="46"/><rect x="421" y="712" width="3" height="41"/><rect x="424" y="712" width="3" height="34"/><rect x="427" y="712" width="4" height="25"/><rect x="431" y="712" width="3" height="17"/><rect x="434" y="712" width="4" height="10"/><rect x="438" y="712" width="3" height="4"/><rect x="441" y="712" width="3" height="1"/><rect x="444" y="706" width="4" height="6"/><rect x="448" y="706" width="3" height="6"/><rect x="451" y="701" width="4" height="11"/><rect x="455" y="699" width="3" height="13"/><rect x="458" y="699" width="3" height="13"/><rect x="461" y="696" width="4" height="16"/><rect x="465" y="696" width="3" height="16"/><rect x="468" y="695" width="4" height="17"/><rect x="472" y="698" width="3" height="14"/><rect x="475" y="701" width="3" height="11"/><rect x="478" y="701" width="4" height="11"/><rect x="482" y="700" width="3" height="12"/><rect x="485" y="695" width="4" height="17"/><rect x="489" y="685" width="3" height="27"/><rect x="492" y="685" width="3" height="27"/><rect x="495" y="686" width="4" height="26"/><rect x="499" y="687" width="3" height="25"/><rect x="502" y="686" width="4" height="26"/><rect x="506" y="686" width="3" height="26"/><rect x="509" y="686" width="3" height="26"/><rect x="512" y="687" width="4" height="25"/><rect x="516" y="690" width="3" height="22"/><rect x="519" y="693" width="4" height="19"/><rect x="523" y="696" width="3" height="16"/></g>
<line x1="1" y1="712.5" x2="578" y2="712.5" stroke="#b4b4b4"/>
<path d="M1.1 697.2 L6.6 699.9 L13.3 703.6 L19.9 707 L26.5 710.3 L33.1 713.1 L39.8 714.9 L46.4 716.7 L53 718.7 L59.6 720.2 L66.3 720.9 L72.9 719.8 L79.5 718 L86.1 715.3 L90.6 714.2 L97.2 714.2 L101.6 715.8 L106 719.3 L110.4 723.7 L114.9 728.6 L119.3 733 L123.7 738.5 L128.1 746.3 L132.5 752.9 L137 757.3 L141.4 760.6 L145.8 761.7 L150 761.5 L153.3 760.1 L157.7 756.1 L162.1 753.2 L168.7 751 L175.3 749.5 L182 747.7 L188.6 745 L195.2 741.7 L199.6 739.1 L204.1 735.5 L210.7 730.7 L217.3 726.3 L223.9 724.1 L230.6 721.9 L237.2 720.3 L243.8 719.6 L250.4 719.2 L257.1 718.8 L263.7 719.2 L272.5 720.3 L281.4 721.4 L286.6 722.3 L293.3 721.9 L302.1 719.7 L310.9 716.4 L319.8 713.1 L328.6 711.3 L337.4 711.5 L346.3 710.9 L355 711.5 L362.4 710.7 L369.7 709.2 L374.1 705.9 L378.6 702.2 L384.5 698.2 L388.9 694.5 L393.3 692.3 L397.7 689.7 L400.7 689 L404 689.2 L407 693 L410 699.1 L413.1 707.1 L416.1 716.1 L419.1 724.1 L422.1 731.2 L425.1 738.2 L428.1 746.2 L431.1 753.2 L434.1 759.3 L437.1 764.3 L440.1 768.3 L443.2 770.8 L446.2 771.3 L450.2 769.8 L455 767.3 L459.5 764.2 L473 752.7 L479.6 747.2 L486.3 740.6 L492.9 730.6 L499.5 720.7 L505 713 L510.6 703 L517.2 692 L523.8 680.9" fill="none" stroke="#6aec6a" stroke-width="1.3"/>
<path d="M1.1 705.4 L3.3 704.7 L6.6 707 L11 709.2 L15.5 712 L19.9 714.9 L24.3 717.1 L29.8 718.2 L34.2 715.8 L37.6 714.2 L40.9 714.7 L44.2 717.6 L47.5 720.4 L51.9 722 L56.3 724.2 L60.7 724.6 L64.1 722 L67.4 716.4 L72.9 712.7 L77.3 710.9 L81.7 709.2 L85 710.9 L88.4 714.2 L92.8 715.8 L96.1 717.6 L99.4 722 L103.8 729.7 L108.2 737.9 L111.6 744.1 L114.9 746.3 L118.2 752.9 L121.5 759.5 L125.9 766.1 L130.3 766.8 L135.2 767.9 L139.2 765 L143.6 760 L148.8 750.6 L153.3 745 L157.7 742.2 L161 743.9 L164.3 748.4 L168.7 751.7 L173.1 752.3 L177.6 748.4 L183.1 745 L186.4 738.4 L191.9 731.8 L197.4 728.5 L200.7 724.5 L206.3 723 L211.8 721.9 L216.2 723 L220.6 725.2 L223.9 724.1 L228.4 720.1 L232.8 718.5 L237.2 717.4 L241.6 719.2 L246 720.1 L248.2 721.4 L251.6 717.9 L254.9 717.9 L259.3 719.2 L263.7 719.6 L268.1 721.9 L272.5 723 L277 723.3 L280 723 L284.4 721.9 L288.8 719.7 L293.3 717.5 L297.7 716.4 L302.1 713.7 L306.5 710.9 L310.9 710.2 L315.3 710.2 L319.8 709.3 L324.2 711.5 L328.6 712.4 L333 713.1 L336.3 714.2 L339.6 712.4 L344.1 710.2 L348.5 709.3 L352.9 709.8 L355 709.2 L359.4 710.3 L363.8 708.5 L367.2 707 L369 703 L371.2 697.1 L374.1 692.3 L377.1 689 L380.4 687.2 L383.7 684.6 L386.7 684.2 L388.9 685.3 L391.1 686.9 L394.8 687.9 L397.7 689.7 L400.7 693 L402.5 698.6 L404 706.7 L405 713.1 L407 726.2 L409 739.2 L411.1 752.2 L413.6 761.3 L417.1 767.3 L421.1 771.8 L425.1 774.3 L429.1 772.3 L433.1 771.3 L437.1 771.1 L441.7 770.8 L444.2 767.8 L448.2 764.8 L455 757.3 L459.8 751.6 L464.2 746.1 L469.7 739.5 L475.2 737.9 L479.6 736.2 L484.1 731.7 L487.4 722.9 L490.7 711.9 L494 704.1 L499.5 696.4 L505 687.6 L509.5 678.7 L513.9 672.1 L518.3 668.1 L523.8 665" fill="none" stroke="#1e1ed8" stroke-width="1.5"/>
<line x1="578" y1="642.5" x2="585" y2="642.5" stroke="#34406c"/>
<rect x="584" y="640.2" width="4" height="4" rx="1" fill="#34406c"/>
<text x="593" y="646.8" font-size="10.2" fill="#4e5678" font-family="Liberation Sans, sans-serif">0.16</text>
<line x1="578" y1="677.5" x2="585" y2="677.5" stroke="#34406c"/>
<rect x="584" y="675.2" width="4" height="4" rx="1" fill="#34406c"/>
<text x="593" y="681.8" font-size="10.2" fill="#4e5678" font-family="Liberation Sans, sans-serif">0.08</text>
<line x1="578" y1="712.5" x2="585" y2="712.5" stroke="#34406c"/>
<rect x="584" y="710.2" width="4" height="4" rx="1" fill="#34406c"/>
<text x="593" y="716.8" font-size="10.2" fill="#4e5678" font-family="Liberation Sans, sans-serif">0.00</text>
<line x1="578" y1="747.5" x2="585" y2="747.5" stroke="#34406c"/>
<rect x="584" y="745.2" width="4" height="4" rx="1" fill="#34406c"/>
<text x="593" y="751.8" font-size="10.2" fill="#4e5678" font-family="Liberation Sans, sans-serif">-0.08</text>
<line x1="578" y1="782.5" x2="585" y2="782.5" stroke="#34406c"/>
<rect x="584" y="780.2" width="4" height="4" rx="1" fill="#34406c"/>
<text x="593" y="786.8" font-size="10.2" fill="#4e5678" font-family="Liberation Sans, sans-serif">-0.16</text>
<path d="M1 608 H81.7 L72.2 628.6 H1 Z" fill="#6d7189"/>
<rect x="2" y="609" width="18" height="18" fill="#000418"/><rect x="2" y="609" width="17" height="17" fill="#3c5090"/><rect x="3" y="610" width="16" height="16" fill="#0c2266"/>
<path d="M7.6 613.8 L15.4 621.8 M15.4 613.8 L7.6 621.8" stroke="#fff" stroke-width="2"/>
<text x="26.5" y="622.7" font-size="13" fill="#fff" font-family="Liberation Sans, sans-serif">MACD</text>
<line x1="1" y1="800.5" x2="578" y2="800.5" stroke="#d6dcfa"/>
<line x1="1" y1="839.5" x2="578" y2="839.5" stroke="#d6dcfa"/>
<line x1="1" y1="878.5" x2="578" y2="878.5" stroke="#d6dcfa"/>
<line x1="1" y1="917.5" x2="578" y2="917.5" stroke="#d6dcfa"/>
<line x1="1" y1="956.5" x2="578" y2="956.5" stroke="#d6dcfa"/>
<line x1="1" y1="847.5" x2="578" y2="847.5" stroke="#555"/>
<line x1="1" y1="909.5" x2="578" y2="909.5" stroke="#555"/>
<path d="M1.1 880.8 L3.3 882.4 L6.6 877.5 L9.9 877.5 L13.3 902.5 L16.6 894.1 L21 899.6 L23.2 898.9 L26.5 891.9 L30.3 882.1 L34.2 891.4 L37.6 872.4 L40.9 875.3 L44.2 889.2 L47.5 904.7 L50.8 901.8 L54.1 896.7 L57.4 895.4 L60.7 889.6 L64.1 870.9 L68 859.4 L71.8 870.9 L75.1 871.3 L78.4 869.8 L81.7 876.4 L85 892.3 L88.4 891.4 L91.7 875.7 L95.4 870.9 L98.3 887.9 L101.6 894.1 L104.9 902.9 L109.3 909.5 L112.7 921.7 L117.1 927.2 L121.5 932.7 L125.9 933.8 L129.2 921 L132.5 917.9 L135.9 916.6 L139.2 912.8 L142.7 910.6 L145.5 900.7 L148.8 886.3 L152.1 878.6 L155.9 877.5 L159.4 887.4 L163.2 901.1 L166.5 890.7 L169.8 883 L173.1 878.6 L176.4 879.7 L179.8 876.8 L183.1 878.2 L186.8 867.6 L190.4 876.4 L194.1 884.1 L197 890.1 L200.1 880.4 L203.6 884.1 L207.4 877.5 L210.7 863.1 L214 861.6 L218.4 869.8 L223.9 875.3 L227.3 868.7 L231 868.7 L234.5 889.6 L237.6 883.5 L241.2 890.1 L244.3 887.4 L248.2 905.5 L251.6 869.8 L254.9 879.7 L258.2 887.9 L261.5 883 L264.8 876.8 L268.1 884.1 L272.1 887.9 L275.2 896.3 L278.7 890.7 L282.2 893.4 L285.5 883.5 L288.8 874.6 L292.1 875.7 L295.5 868 L299.2 897.8 L302.5 868 L306.1 854.8 L309.8 871.3 L313.1 868 L316.4 859.2 L319.8 856.5 L323.1 869.1 L326.4 875.1 L329.7 866.9 L333.5 883.5 L336.3 882.4 L339.6 871.3 L343 874.2 L346.3 868 L349.6 883.9 L353.3 886.8 L356.9 878 L360 883 L363.5 869.1 L366.8 873.5 L370.1 837.1 L373.9 832.2 L377.2 842.6 L380.5 838.2 L383.8 836.4 L387.8 854.8 L391.1 864 L394.4 860.3 L397.5 858.7 L401.1 868 L404.1 897.8 L408.1 912.2 L411.4 918.8 L414.7 904.5 L418.1 918.4 L421.4 918.4 L424.4 917.7 L428.4 911.5 L432.1 915.9 L435.5 915 L438.8 913.7 L442.1 919.4 L445.4 908.4 L448.7 907.1 L452 887.8 L455.8 848.1 L459.1 839.7 L462.6 859.1 L468.6 857.4 L476.3 881.9 L479.6 874.6 L485.8 849.2 L489.6 834.4 L495.1 839.2 L500 843 L503.5 837.7 L506.6 838.6 L510.1 832.6 L516.8 835 L520.5 820.9 L523.8 820.5" fill="none" stroke="#cc3333" stroke-width="1.1"/>
<line x1="578" y1="800.5" x2="585" y2="800.5" stroke="#34406c"/>
<rect x="584" y="798.2" width="4" height="4" rx="1" fill="#34406c"/>
<text x="593" y="804.8" font-size="10.2" fill="#4e5678" font-family="Liberation Sans, sans-serif">100.00</text>
<line x1="578" y1="839.5" x2="585" y2="839.5" stroke="#34406c"/>
<rect x="584" y="837.2" width="4" height="4" rx="1" fill="#34406c"/>
<text x="593" y="843.8" font-size="10.2" fill="#4e5678" font-family="Liberation Sans, sans-serif">75.00</text>
<line x1="578" y1="878.5" x2="585" y2="878.5" stroke="#34406c"/>
<rect x="584" y="876.2" width="4" height="4" rx="1" fill="#34406c"/>
<text x="593" y="882.8" font-size="10.2" fill="#4e5678" font-family="Liberation Sans, sans-serif">50.00</text>
<line x1="578" y1="917.5" x2="585" y2="917.5" stroke="#34406c"/>
<rect x="584" y="915.2" width="4" height="4" rx="1" fill="#34406c"/>
<text x="593" y="921.8" font-size="10.2" fill="#4e5678" font-family="Liberation Sans, sans-serif">25.00</text>
<line x1="578" y1="956.5" x2="585" y2="956.5" stroke="#34406c"/>
<rect x="584" y="954.2" width="4" height="4" rx="1" fill="#34406c"/>
<text x="593" y="960.8" font-size="10.2" fill="#4e5678" font-family="Liberation Sans, sans-serif">0.00</text>
<path d="M1 792 H63.6 L53.8 812.6 H1 Z" fill="#6d7189"/>
<rect x="2" y="793" width="18" height="18" fill="#000418"/><rect x="2" y="793" width="17" height="17" fill="#3c5090"/><rect x="3" y="794" width="16" height="16" fill="#0c2266"/>
<path d="M7.6 797.8 L15.4 805.8 M15.4 797.8 L7.6 805.8" stroke="#fff" stroke-width="2"/>
<line x1="19.6" y1="800.5" x2="60.5" y2="800.5" stroke="#7480b4"/>
<text x="26.5" y="806.7" font-size="13" fill="#fff" font-family="Liberation Sans, sans-serif">RSI</text>
<line x1="0" y1="964" x2="578.5" y2="964" stroke="#34406c"/>
<line x1="10.5" y1="964" x2="10.5" y2="968.5" stroke="#34406c"/>
<text x="9.6" y="983.5" text-anchor="middle" font-size="10.4" fill="#4a5070" font-family="Liberation Sans, sans-serif">06-17</text>
<line x1="91.5" y1="964" x2="91.5" y2="968.5" stroke="#34406c"/>
<text x="91.3" y="983.5" text-anchor="middle" font-size="10.4" fill="#4a5070" font-family="Liberation Sans, sans-serif">06-18</text>
<line x1="173.5" y1="964" x2="173.5" y2="968.5" stroke="#34406c"/>
<text x="173.3" y="983.5" text-anchor="middle" font-size="10.4" fill="#4a5070" font-family="Liberation Sans, sans-serif">06-19</text>
<line x1="255.5" y1="964" x2="255.5" y2="968.5" stroke="#34406c"/>
<text x="255.4" y="983.5" text-anchor="middle" font-size="10.4" fill="#4a5070" font-family="Liberation Sans, sans-serif">06-20</text>
<line x1="334.5" y1="964" x2="334.5" y2="968.5" stroke="#34406c"/>
<text x="333.5" y="983.5" text-anchor="middle" font-size="10.4" fill="#4a5070" font-family="Liberation Sans, sans-serif">06-23</text>
<line x1="415.5" y1="964" x2="415.5" y2="968.5" stroke="#34406c"/>
<text x="414.7" y="983.5" text-anchor="middle" font-size="10.4" fill="#4a5070" font-family="Liberation Sans, sans-serif">06-24</text>
<line x1="496.5" y1="964" x2="496.5" y2="968.5" stroke="#34406c"/>
<text x="496.3" y="983.5" text-anchor="middle" font-size="10.4" fill="#4a5070" font-family="Liberation Sans, sans-serif">06-25</text>
<rect x="0" y="0" width="1" height="997" fill="#fff"/>
<line x1="635.5" y1="89" x2="635.5" y2="995" stroke="#0c2a72" stroke-width="1.2"/>
<line x1="0" y1="994.5" x2="636" y2="994.5" stroke="#0c2a72" stroke-width="1.5"/>
</svg>
<div id="hdr">
 <div id="tb">
  <div class="abs" style="left:0;top:0;width:1.5px;height:28px;background:#0a1440"></div><div class="abs" style="left:1.5px;top:0;width:1px;height:28px;background:#2a3c7a"></div>
  <div class="abs" id="pair"></div>
 </div>
 <svg class="abs" style="left:0;top:0" width="60" height="30" viewBox="1 1 60 30">
  <defs>
   <clipPath id="cu"><circle cx="24.7" cy="16.1" r="8.4"/></clipPath>
   <linearGradient id="gl" x1="0" y1="0" x2="0" y2="1"><stop offset="0" stop-color="#fff" stop-opacity=".4"/><stop offset=".5" stop-color="#fff" stop-opacity=".08"/><stop offset=".51" stop-color="#fff" stop-opacity="0"/><stop offset="1" stop-color="#000" stop-opacity=".08"/></linearGradient>
   <radialGradient id="jw" cx=".5" cy=".45" r=".55"><stop offset="0" stop-color="#fff"/><stop offset=".75" stop-color="#f4f4f4"/><stop offset="1" stop-color="#c4c6cc"/></radialGradient>
   <radialGradient id="jr" cx=".4" cy=".35" r=".7"><stop offset="0" stop-color="#f57070"/><stop offset=".6" stop-color="#e03030"/><stop offset="1" stop-color="#c81c1c"/></radialGradient>
  </defs>
  <g clip-path="url(#cu)">
   <rect x="16" y="7.5" width="18" height="18" fill="#fff"/>
   <g fill="#c0102c"><rect x="16" y="8.4" width="18" height="1.7"/><rect x="16" y="13.1" width="18" height="1.7"/><rect x="16" y="18" width="18" height="1.7"/><rect x="16" y="22.9" width="18" height="1.8"/></g>
   <rect x="16" y="7.5" width="8.6" height="7.2" fill="#5c659c"/>
   <g fill="#e8eaf4"><circle cx="18" cy="9.5" r=".7"/><circle cx="20.5" cy="9.5" r=".7"/><circle cx="23" cy="9.5" r=".7"/><circle cx="19.2" cy="11.3" r=".7"/><circle cx="21.7" cy="11.3" r=".7"/><circle cx="18" cy="13.1" r=".7"/><circle cx="20.5" cy="13.1" r=".7"/><circle cx="23" cy="13.1" r=".7"/></g>
   <rect x="16" y="7.5" width="18" height="18" fill="url(#gl)"/>
  </g>
  <circle cx="24.7" cy="16.1" r="8.5" fill="none" stroke="#1a2038" stroke-opacity=".6" stroke-width="1"/>
  <circle cx="45.7" cy="16.1" r="8.5" fill="url(#jw)" stroke="#1a2038" stroke-opacity=".55" stroke-width="1"/>
  <circle cx="45.7" cy="15.9" r="4.4" fill="url(#jr)"/>
 </svg>
 <div class="abs" id="pairt">USD/JPY</div>
 <div class="dd" style="left:116.5px;width:89px"><span>Bid</span><b></b></div>
 <div class="dd" style="left:210.5px;width:113.5px"><span class="j">ローソク足</span><b></b></div>
 <div class="dd" style="left:328px;width:79px"><span class="j">1時間足</span><b></b></div>
 <div class="abs" id="sep1"></div>
 <div class="abs" id="sel"></div>
 <div class="abs" id="chk"></div>
 <div class="abs" id="selt">通貨ペアを選択</div>
 <div class="abs" id="vl"></div>
 <div class="abs" id="gr"></div>
 <div class="abs" id="menu"><i style="top:3.5px"></i><i style="top:5.5px"></i><i style="top:7.5px"></i><i style="top:9.5px"></i><em></em></div>
 <div class="abs" id="arr"><svg width="17" height="17" viewBox="0 0 17 17" style="position:absolute;left:0;top:0"><path d="M12.8 3.8 L6.5 10.1" stroke="#fff" stroke-width="2.6" fill="none"/><path d="M3.8 6 V13 H10.8 Z" fill="#fff"/></svg></div>
 <div id="info">
  <span class="l" style="left:11.5px">Bid</span><span class="v" style="left:36.6px">107.029</span>
  <span class="l" style="left:85.4px">Ask</span><span class="v" style="left:115.4px">107.031</span>
  <span class="l" style="left:164.7px">Spread</span><span class="v" style="left:209.6px">0.2</span>
  <span class="l" style="left:234.9px">Open</span><span class="v" style="left:271.3px">106.948</span>
  <span class="l" style="left:320.7px">High</span><span class="v" style="left:355.5px">107.147</span>
  <span class="l" style="left:404.3px">Low</span><span class="v" style="left:434.3px">106.897</span>
  <span class="l" style="left:483.8px">Change</span><span class="v" style="left:534px">0.081</span>
  <span class="l" style="left:570.4px">Time</span><span class="v" style="left:606.8px">08:30</span>
 </div>
 <div class="abs" id="slider">
  <div class="abs" id="win"></div>
 </div>
 <svg class="abs" style="left:-1px;top:-1px" width="636" height="90" viewBox="0 0 636 90">
  <path d="M13.3 73.3 L14.9 73.9 L16.5 75.5 L18.1 75.4 L19.7 76.7 L21.3 77 L22.9 77 L24.5 78 L26.1 77.3 L27.7 77.9 L29.3 77.3 L30.9 77.2 L32.5 77.7 L34.1 78.2 L35.7 77 L37.3 77 L38.9 77.2 L40.5 76.8 L42.1 75.3 L43.7 74 L45.3 74 L46.9 72.6 L48.5 74.3 L50.1 73.9 L51.7 74.1 L53.3 74.5 L54.9 75.3 L56.5 76.5 L58.1 75.6 L59.7 76.4 L61.3 76.7 L62.9 76.2 L64.5 76.3 L66.1 75.4 L67.7 75.2 L69.3 75.6 L70.9 76.6 L72.5 76.4 L74.1 76.5 L75.7 77.1 L77.3 77.2 L78.9 77.4 L80.5 78.6 L82.1 78.9 L83.7 78.6 L85.3 79.6 L86.9 79.7 L88.5 80.5 L90.1 80.4 L91.7 79.9 L93.3 81.2 L94.9 79.8 L96.5 79.7 L98.1 79.7 L99.7 78.1 L101.3 78.1 L102.9 77.7 L104.5 79.3 L106.1 79.9 L107.7 79.4 L109.3 79.7 L110.9 78.6 L112.5 79 L114.1 78.4 L115.7 77.6 L117.3 76.6 L118.9 76.5 L120.5 75.9 L122.1 74.3 L123.7 73.9 L125.3 72.1 L126.9 72.4 L128.5 71.8 L130.1 72.6 L131.7 72.6 L133.3 72 L134.9 72.4 L136.5 73.1 L138.1 72.4 L139.7 73.4 L141.3 73.2 L142.9 73.3 L144.5 73.5 L146.1 74.9 L147.7 74 L149.3 74.4 L150.9 74.8 L152.5 75.8 L154.1 74.7 L155.7 75.4 L157.3 75.7 L158.9 76.4 L160.5 76.4 L162.1 76 L163.7 74.6 L165.3 74.3 L166.9 73.7 L168.5 74.3 L170.1 74.5 L171.7 73.3 L173.3 73.5 L174.9 73.6 L176.5 73.8 L178.1 73.9 L179.7 73.8 L181.3 73 L182.9 72.4 L184.5 72.8 L186.1 72.4 L187.7 72.3 L189.3 72.5 L190.9 71.7 L192.5 71.1 L194.1 70.8 L195.7 70.5 L197.3 69.5 L198.9 71.4 L200.5 71.7 L202.1 72 L203.7 72 L205.3 71.5 L206.9 71.5 L208.5 70.9 L210.1 71.7 L211.7 70.7 L213.3 70.7 L214.9 70.8 L216.5 70.7 L218.1 70.9 L219.7 70.3 L221.3 70.2 L222.9 70.5 L224.5 70.5 L226.1 71 L227.7 70.5 L229.3 72 L230.9 71.6 L232.5 71 L234.1 71.2 L235.7 71.4 L237.3 71.4 L238.9 70.9 L240.5 71.9 L242.1 72 L243.7 71 L245.3 70.9 L246.9 70.2 L248.5 70 L250.1 70.3 L251.7 70 L253.3 71.2 L254.9 70.5 L256.5 70.6 L258.1 72.4 L259.7 72.1 L261.3 71.7 L262.9 72 L264.5 70.8 L266.1 71.3 L267.7 71.7 L269.3 71.2 L270.9 70.7 L272.5 70.1 L274.1 70.4 L275.7 70.1 L277.3 71.2 L278.9 70.9 L280.5 71.3 L282.1 70.7 L283.7 70.7 L285.3 72 L286.9 72.6 L288.5 72.8 L290.1 73.4 L291.7 74.4 L293.3 73.3 L294.9 70.9 L296.5 71.1 L298.1 70.9 L299.7 70.5 L301.3 70.6 L302.9 71.1 L304.5 71.1 L306.1 71.9 L307.7 72.4 L309.3 71.4 L310.9 72 L312.5 71.9 L314.1 70.4 L315.7 65.2 L317.3 64.9 L318.9 64.7 L320.5 64.5 L322.1 64.4 L323.7 64.9 L325.3 65.2 L326.9 65 L328.5 64.2 L330.1 64.4 L331.7 64.4 L333.3 63.1 L334.9 63.9 L336.5 64.1 L338.1 63.8 L339.7 63.6 L341.3 63 L342.9 62.4 L344.5 63.2 L346.1 62.3 L347.7 62.9 L349.3 62.5 L350.9 60.9 L352.5 60.3 L354.1 60.7 L355.7 60.6 L357.3 60.1 L358.9 60.3 L360.5 60.7 L362.1 62.2 L363.7 63 L365.3 64.1 L366.9 66.8 L368.5 67.6 L370.1 67.6 L371.7 67.7 L373.3 68.5 L374.9 68.4 L376.5 68.7 L378.1 70.6 L379.7 70.5 L381.3 70.8 L382.9 71.9 L384.5 71.5 L386.1 72.6 L387.7 73 L389.3 72.5 L390.9 73 L392.5 73.5 L394.1 73.8 L395.7 74.7 L397.3 74.2 L398.9 74.3 L400.5 73.7 L402.1 74.8 L403.7 73.7 L405.3 73.6 L406.9 73.6 L408.5 73.9 L410.1 72.9 L411.7 73.4 L413.3 72.5 L414.9 72.4 L416.5 72.5 L418.1 71.9 L419.7 72.7 L421.3 72.3 L422.9 71.8 L424.5 72.9 L426.1 71.7 L427.7 72 L429.3 72.2 L430.9 71.9 L432.5 71.7 L434.1 72.2 L435.7 72.5 L437.3 73 L438.9 72.1 L440.5 73.1 L442.1 72.7 L443.7 72.9 L445.3 73.9 L446.9 73.6 L448.5 73.9 L450.1 74.3 L451.7 74.7 L453.3 74.1 L454.9 74.5 L456.5 74.4 L458.1 74.5 L459.7 74.9 L461.3 74.6 L462.9 74.6 L464.5 74.4 L466.1 75.1 L467.7 74.6 L469.3 74.8 L470.9 74.8 L472.5 73.8 L474.1 74.4 L475.7 75.1 L477.3 75 L478.9 73.9 L480.5 74 L482.1 74.6 L483.7 74 L485.3 74.1 L486.9 73.8 L488.5 74.6 L490.1 74.7 L491.7 74.8 L493.3 75.3 L494.9 78.4 L496.5 78.6 L498.1 77.6 L499.7 78.6 L501.3 78.6 L502.9 77.2 L504.5 78.2 L506.1 77.2 L507.7 77.1 L509.3 76.9 L510.9 75.7 L511.6 74.7" fill="none" stroke="#e4e6f0" stroke-width="1"/>
  <line x1="434.8" y1="58.5" x2="434.8" y2="81.5" stroke="#fff" stroke-width="1.3"/>
  <line x1="511.6" y1="58.5" x2="511.6" y2="81.5" stroke="#fff" stroke-width="1.3"/>
  <path d="M437 70.7 L441 68.2 V73.2 Z" fill="#fff"/>
  <path d="M516 70.7 L512.5 68.2 V73.2 Z" fill="#fff"/>
 </svg>
 <div class="abs" id="lock"><svg width="25" height="25" viewBox="0 0 25 25" style="position:absolute;left:0;top:0">
  <rect x="4" y="13.5" width="7.5" height="6.5" fill="#f4f4f4"/>
  <path d="M9.5 13.5 V11.3 A2.5 2.5 0 0 1 14.5 11.3 V12.3" stroke="#f4f4f4" stroke-width="1.5" fill="none"/>
  <path d="M18.5 3.5 L15.8 7 H21.2 Z M18.5 16 L15.8 12.5 H21.2 Z" fill="#fff"/>
  <line x1="18.5" y1="6.5" x2="18.5" y2="13" stroke="#fff" stroke-width="1.6"/>
 </svg></div>
</div>
</body></html>
